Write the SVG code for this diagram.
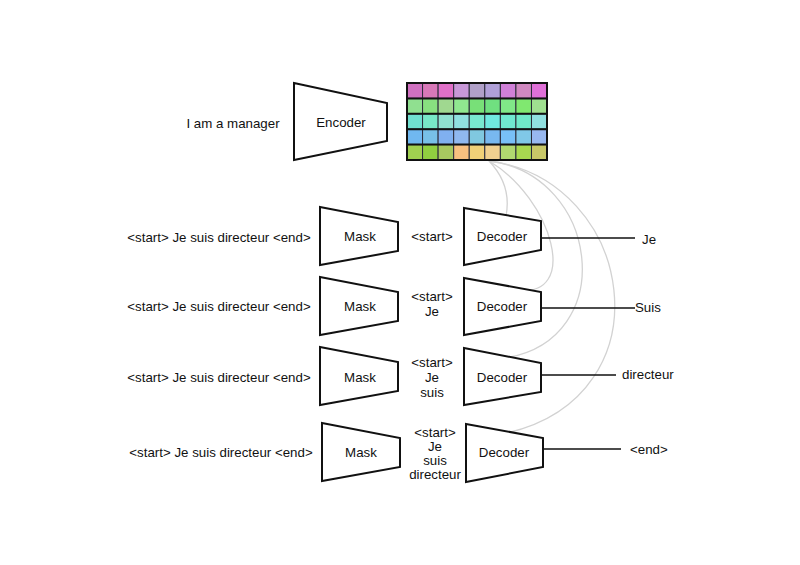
<svg xmlns="http://www.w3.org/2000/svg" width="800" height="565" viewBox="0 0 800 565">
<style>
text{font-family:"Liberation Sans",Arial,sans-serif;font-size:13.3px;fill:#111;}
.c{text-anchor:middle;}
.shape{fill:#fff;stroke:#111;stroke-width:2;stroke-linejoin:miter;}
.att{fill:none;stroke:#d2d2d2;stroke-width:1.3;}
.out{fill:none;stroke:#111;stroke-width:1.6;}
.cell{stroke:#2a2a3a;stroke-width:1;}
</style>
<rect width="800" height="565" fill="#fff"/>
<g id="connectors">
<path class="att" d="M489,161 Q512,185 506,216"/>
<path class="att" d="M489,161 C552,198 582,300 515,290"/>
<path class="att" d="M489,161 C600,175 620,340 505,358"/>
<path class="att" d="M489,161 C635,180 670,395 507,433"/>
<line class="out" x1="541" y1="238" x2="635" y2="238"/>
<line class="out" x1="541" y1="308" x2="635" y2="308"/>
<line class="out" x1="541" y1="375" x2="616" y2="375"/>
<line class="out" x1="543" y1="449" x2="621" y2="449"/>
</g>
<g id="input-text"><text class="c" x="233" y="128">I am a manager</text></g>
<g id="encoder">
<polygon class="shape" points="294,83 387,103 387,141 294,160"/>
<text class="c" x="341" y="127">Encoder</text>
</g>
<g id="embedding-grid">
<g class="cell">
<rect x="407" y="83" width="15.56" height="15.4" fill="#d070c0"/>
<rect x="422.56" y="83" width="15.56" height="15.4" fill="#d878b8"/>
<rect x="438.12" y="83" width="15.56" height="15.4" fill="#e070c8"/>
<rect x="453.68" y="83" width="15.56" height="15.4" fill="#c898d8"/>
<rect x="469.24" y="83" width="15.56" height="15.4" fill="#b0a0c8"/>
<rect x="484.8" y="83" width="15.56" height="15.4" fill="#b0a0d8"/>
<rect x="500.36" y="83" width="15.56" height="15.4" fill="#d080d8"/>
<rect x="515.92" y="83" width="15.56" height="15.4" fill="#d088c0"/>
<rect x="531.48" y="83" width="15.52" height="15.4" fill="#e070d8"/>
<rect x="407" y="98.4" width="15.56" height="15.4" fill="#90e090"/>
<rect x="422.56" y="98.4" width="15.56" height="15.4" fill="#88e080"/>
<rect x="438.12" y="98.4" width="15.56" height="15.4" fill="#a0d890"/>
<rect x="453.68" y="98.4" width="15.56" height="15.4" fill="#90e890"/>
<rect x="469.24" y="98.4" width="15.56" height="15.4" fill="#78e078"/>
<rect x="484.8" y="98.4" width="15.56" height="15.4" fill="#70e080"/>
<rect x="500.36" y="98.4" width="15.56" height="15.4" fill="#80e888"/>
<rect x="515.92" y="98.4" width="15.56" height="15.4" fill="#80e870"/>
<rect x="531.48" y="98.4" width="15.52" height="15.4" fill="#a0e090"/>
<rect x="407" y="113.8" width="15.56" height="15.4" fill="#70e0d0"/>
<rect x="422.56" y="113.8" width="15.56" height="15.4" fill="#78e8c8"/>
<rect x="438.12" y="113.8" width="15.56" height="15.4" fill="#90e0d0"/>
<rect x="453.68" y="113.8" width="15.56" height="15.4" fill="#90e0e0"/>
<rect x="469.24" y="113.8" width="15.56" height="15.4" fill="#78e8d0"/>
<rect x="484.8" y="113.8" width="15.56" height="15.4" fill="#70e8e0"/>
<rect x="500.36" y="113.8" width="15.56" height="15.4" fill="#70e8d0"/>
<rect x="515.92" y="113.8" width="15.56" height="15.4" fill="#70e8c8"/>
<rect x="531.48" y="113.8" width="15.52" height="15.4" fill="#90e0e0"/>
<rect x="407" y="129.2" width="15.56" height="15.4" fill="#70b8f0"/>
<rect x="422.56" y="129.2" width="15.56" height="15.4" fill="#78c0e8"/>
<rect x="438.12" y="129.2" width="15.56" height="15.4" fill="#80b0f0"/>
<rect x="453.68" y="129.2" width="15.56" height="15.4" fill="#90b8f0"/>
<rect x="469.24" y="129.2" width="15.56" height="15.4" fill="#80c8e0"/>
<rect x="484.8" y="129.2" width="15.56" height="15.4" fill="#78b8f0"/>
<rect x="500.36" y="129.2" width="15.56" height="15.4" fill="#78c0f8"/>
<rect x="515.92" y="129.2" width="15.56" height="15.4" fill="#80c8e8"/>
<rect x="531.48" y="129.2" width="15.52" height="15.4" fill="#98b8f0"/>
<rect x="407" y="144.6" width="15.56" height="15.4" fill="#a0d050"/>
<rect x="422.56" y="144.6" width="15.56" height="15.4" fill="#90d040"/>
<rect x="438.12" y="144.6" width="15.56" height="15.4" fill="#a8c860"/>
<rect x="453.68" y="144.6" width="15.56" height="15.4" fill="#f8c080"/>
<rect x="469.24" y="144.6" width="15.56" height="15.4" fill="#f0d078"/>
<rect x="484.8" y="144.6" width="15.56" height="15.4" fill="#f0d090"/>
<rect x="500.36" y="144.6" width="15.56" height="15.4" fill="#b0d870"/>
<rect x="515.92" y="144.6" width="15.56" height="15.4" fill="#a8d850"/>
<rect x="531.48" y="144.6" width="15.52" height="15.4" fill="#c8c868"/>
</g>
<g stroke="#111" stroke-width="2">
<line x1="407" y1="98.4" x2="547" y2="98.4"/>
<line x1="407" y1="113.8" x2="547" y2="113.8"/>
<line x1="407" y1="129.2" x2="547" y2="129.2"/>
<line x1="407" y1="144.6" x2="547" y2="144.6"/>
</g>
<rect x="407" y="83" width="140" height="77" fill="none" stroke="#111" stroke-width="2"/>
</g>
<g id="row1">
<text class="c" x="219" y="242">&lt;start&gt; Je suis directeur &lt;end&gt;</text>
<g id="mask1"><polygon class="shape" points="320,207 398,222 398,251 320,265"/><text class="c" x="360" y="241">Mask</text></g>
<text class="c" x="432" y="241">&lt;start&gt;</text>
<g id="decoder1"><polygon class="shape" points="464,208 541,221 541,250 464,265"/><text class="c" x="502" y="241">Decoder</text></g>
<text x="642" y="244">Je</text>
</g>
<g id="row2">
<text class="c" x="219" y="311">&lt;start&gt; Je suis directeur &lt;end&gt;</text>
<g id="mask2"><polygon class="shape" points="320,277 398,292 398,321 320,335"/><text class="c" x="360" y="311">Mask</text></g>
<text class="c" x="432" y="301">&lt;start&gt;</text>
<text class="c" x="432" y="316">Je</text>
<g id="decoder2"><polygon class="shape" points="464,278 541,292 541,321 464,335"/><text class="c" x="502" y="311">Decoder</text></g>
<text x="635" y="312">Suis</text>
</g>
<g id="row3">
<text class="c" x="219" y="382">&lt;start&gt; Je suis directeur &lt;end&gt;</text>
<g id="mask3"><polygon class="shape" points="320,347 398,362 398,391 320,405"/><text class="c" x="360" y="382">Mask</text></g>
<text class="c" x="432" y="367">&lt;start&gt;</text>
<text class="c" x="432" y="382">Je</text>
<text class="c" x="432" y="397">suis</text>
<g id="decoder3"><polygon class="shape" points="464,348 541,363 541,392 464,405"/><text class="c" x="502" y="382">Decoder</text></g>
<text x="622" y="379">directeur</text>
</g>
<g id="row4">
<text class="c" x="221" y="457">&lt;start&gt; Je suis directeur &lt;end&gt;</text>
<g id="mask4"><polygon class="shape" points="322,423 400,438 400,467 322,481"/><text class="c" x="361" y="457">Mask</text></g>
<text class="c" x="435" y="437">&lt;start&gt;</text>
<text class="c" x="435" y="451">Je</text>
<text class="c" x="435" y="465">suis</text>
<text class="c" x="435" y="479">directeur</text>
<g id="decoder4"><polygon class="shape" points="466,424 543,438 543,467 466,482"/><text class="c" x="504" y="457">Decoder</text></g>
<text x="630" y="454">&lt;end&gt;</text>
</g>
</svg>
